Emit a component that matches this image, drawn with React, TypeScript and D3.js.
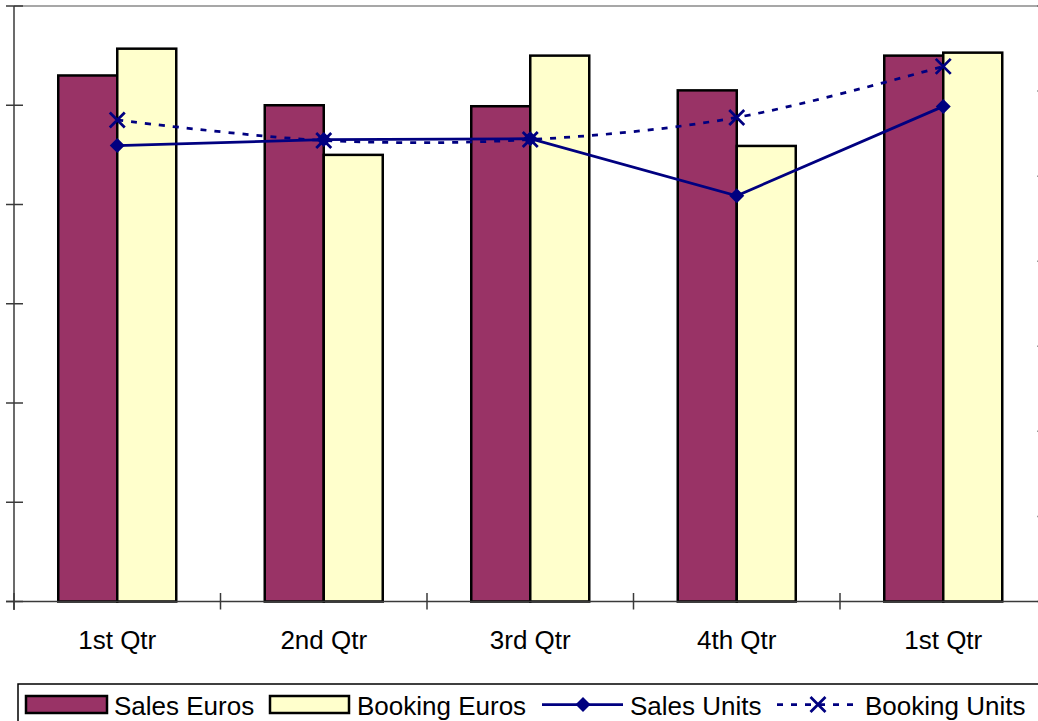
import React from "react";
import * as d3 from "d3";

const categories = ["1st Qtr", "2nd Qtr", "3rd Qtr", "4th Qtr", "1st Qtr"];
const salesEuros = [5.3, 5.0, 4.99, 5.15, 5.5];
const bookingEuros = [5.57, 4.5, 5.5, 4.59, 5.53];
const salesUnits = [5.36, 5.43, 5.44, 4.77, 5.82];
const bookingUnits = [5.66, 5.42, 5.43, 5.69, 6.29];
const leftTicks = [0, 1, 2, 3, 4, 5, 6];
const rightTicks = [0, 1, 2, 3, 4, 5, 6, 7];
const seriesNames = ["Sales Euros", "Booking Euros", "Sales Units", "Booking Units"];

const W = 1038;
const H = 721;
const plotLeft = 14;
const plotRight = 1046.5;
const plotTop = 6;
const plotBottom = 601.5;

const PLUM = "#993366";
const CREAM = "#FFFFCC";
const NAVY = "#000080";
const FONT = "'Liberation Sans', Arial, sans-serif";

export default function App() {
  const idx = d3.range(categories.length);
  const x = d3
    .scaleBand<number>()
    .domain(idx)
    .range([plotLeft, plotRight])
    .paddingInner(0)
    .paddingOuter(0);
  const inner = d3
    .scaleBand<string>()
    .domain(["s", "b"])
    .range([0, x.bandwidth()])
    .paddingInner(0)
    .paddingOuter(0.75);
  const yL = d3.scaleLinear().domain([0, 6]).range([plotBottom, plotTop]);
  const yR = d3.scaleLinear().domain([0, 7]).range([plotBottom, plotTop]);
  const cx = (i: number) => (x(i) as number) + x.bandwidth() / 2;

  const salesLine = d3
    .line<number>()
    .x((_, i) => cx(i))
    .y((d) => yR(d))
    .curve(d3.curveLinear);
  const bookLine = d3
    .line<number>()
    .x((_, i) => cx(i))
    .y((d) => yR(d))
    .curve(d3.curveCardinal.tension(0));

  const diamond = (px: number, py: number, r = 7.5) =>
    `M${px},${py - r}L${px + r},${py}L${px},${py + r}L${px - r},${py}Z`;
  const cross = (px: number, py: number, r = 7.5) =>
    `M${px - r},${py - r}L${px + r},${py + r}M${px - r},${py + r}L${px + r},${py - r}`;

  const axisColor = "#3a3a3a";

  return (
    <svg
      width={W}
      height={H}
      style={{ position: "absolute", left: 0, top: 0, background: "#fff" }}
      fontFamily={FONT}
    >
      <line x1={plotLeft} x2={plotRight} y1={plotTop} y2={plotTop} stroke="#8a8a8a" strokeWidth={1.5} />

      {idx.map((i) => {
        const x0 = x(i) as number;
        const xs = x0 + (inner("s") as number);
        const xb = x0 + (inner("b") as number);
        const bw = inner.bandwidth();
        return (
          <g key={i}>
            <rect
              x={xs}
              y={yL(salesEuros[i])}
              width={bw}
              height={plotBottom - yL(salesEuros[i])}
              fill={PLUM}
              stroke="#000"
              strokeWidth={2.5}
            />
            <rect
              x={xb}
              y={yL(bookingEuros[i])}
              width={bw}
              height={plotBottom - yL(bookingEuros[i])}
              fill={CREAM}
              stroke="#000"
              strokeWidth={2.5}
            />
          </g>
        );
      })}

      <line x1={plotLeft} x2={plotLeft} y1={plotTop} y2={plotBottom + 8.5} stroke={axisColor} strokeWidth={1.5} />
      {leftTicks.map((t) => (
        <line key={"l" + t} x1={plotLeft - 8} x2={plotLeft + 9} y1={yL(t)} y2={yL(t)} stroke={axisColor} strokeWidth={1.5} />
      ))}
      {rightTicks.map((t) => (
        <line key={"r" + t} x1={plotRight - 9} x2={plotRight + 8} y1={yR(t)} y2={yR(t)} stroke={axisColor} strokeWidth={1.5} />
      ))}
      <line x1={plotLeft - 8} x2={W} y1={plotBottom} y2={plotBottom} stroke={axisColor} strokeWidth={1.5} />
      {d3.range(categories.length + 1).map((i) => {
        const tx = plotLeft + i * x.step();
        return <line key={"c" + i} x1={tx} x2={tx} y1={plotBottom - 8.5} y2={plotBottom + 8} stroke={axisColor} strokeWidth={1.5} />;
      })}
      {categories.map((c, i) => (
        <text key={"t" + i} x={cx(i)} y={649} textAnchor="middle" fontSize={26} fill="#000">
          {c}
        </text>
      ))}

      <path d={bookLine(bookingUnits) || ""} fill="none" stroke={NAVY} strokeWidth={2.75} strokeDasharray="6,8" />
      <path d={salesLine(salesUnits) || ""} fill="none" stroke={NAVY} strokeWidth={2.75} />
      {salesUnits.map((v, i) => (
        <path key={"d" + i} d={diamond(cx(i), yR(v))} fill={NAVY} />
      ))}
      {bookingUnits.map((v, i) => (
        <path key={"x" + i} d={cross(cx(i), yR(v))} fill="none" stroke={NAVY} strokeWidth={2.75} />
      ))}

      <rect x={18} y={684} width={W} height={60} fill="#fff" stroke="#000" strokeWidth={1.5} />
      <rect x={26} y={696} width={81} height={17} fill={PLUM} stroke="#000" strokeWidth={2.5} />
      <text x={114} y={715} fontSize={26}>{seriesNames[0]}</text>
      <rect x={270} y={696} width={79} height={17} fill={CREAM} stroke="#000" strokeWidth={2.5} />
      <text x={357} y={715} fontSize={26}>{seriesNames[1]}</text>
      <line x1={542} x2={623} y1={704.5} y2={704.5} stroke={NAVY} strokeWidth={2.75} />
      <path d={diamond(583, 704.5)} fill={NAVY} />
      <text x={630} y={715} fontSize={26}>{seriesNames[2]}</text>
      <line x1={777} x2={860} y1={704.5} y2={704.5} stroke={NAVY} strokeWidth={2.75} strokeDasharray="6,8" />
      <path d={cross(818, 704.5)} fill="none" stroke={NAVY} strokeWidth={2.75} />
      <text x={865} y={715} fontSize={26}>{seriesNames[3]}</text>
    </svg>
  );
}
